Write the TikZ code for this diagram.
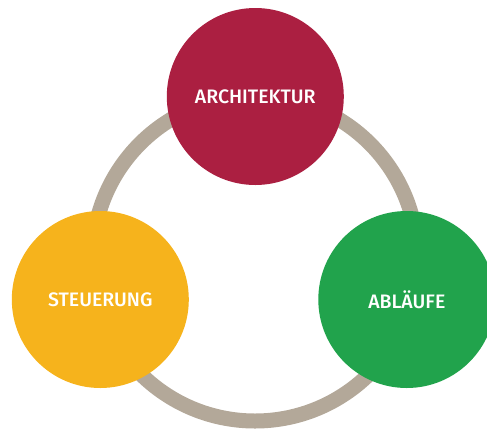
\documentclass[tikz,border=0pt]{standalone}
\usepackage{fontspec}
\setmainfont{Fira Sans}
\newfontfamily\topicfont{Fira Sans Medium}
\definecolor{ringgray}{HTML}{B3A899}
\definecolor{archred}{HTML}{AB1F41}
\definecolor{steuyellow}{HTML}{F6B31C}
\definecolor{ablgreen}{HTML}{21A34C}
\begin{document}
\begin{tikzpicture}[x=1pt,y=-1pt,
  topic/.style={circle,minimum size=177pt,inner sep=0pt,text=white,
    font=\topicfont\fontsize{19.5}{23}\selectfont}]
\useasboundingbox (0,0) rectangle (487,429);
\clip (0,0) rectangle (487,429);
% connecting ring
\coordinate (ringc) at (255,258.5);
\draw[ringgray,line width=15pt] (ringc) circle[radius=162.5];
% the three topic circles
\node[topic,fill=archred] (arch) at (255.3,96.5) {ARCHITEKTUR};
\node[topic,fill=steuyellow] (steu) at (100.3,299.5) {STEUERUNG};
\node[topic,fill=ablgreen] (abl) at (406.8,299.5) {ABLÄUFE};
\end{tikzpicture}
\end{document}
